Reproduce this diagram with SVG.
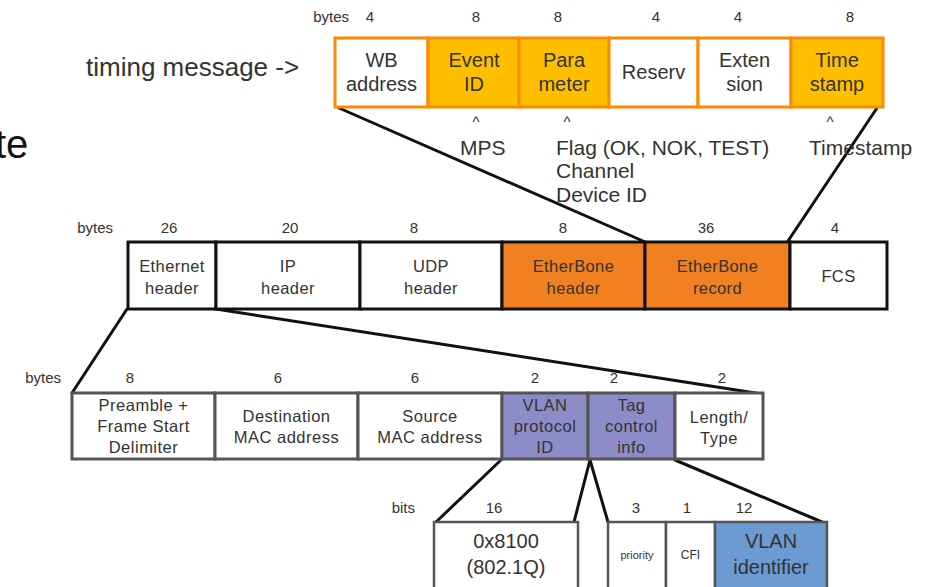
<svg xmlns="http://www.w3.org/2000/svg" width="928" height="587" viewBox="0 0 928 587">
<style>
text{font-family:"Liberation Sans",Arial,sans-serif;fill:#333;text-anchor:middle}
.big{font-size:40px;text-anchor:start;fill:#111}
.title{font-size:26px;text-anchor:start}
.lbl{font-size:15px}
.lbll{font-size:15px;text-anchor:end}
.t1{font-size:20px}
.ann{font-size:21px;text-anchor:start}
.t2{font-size:16.5px;letter-spacing:0.4px}
.t3{font-size:16.5px;letter-spacing:0.5px}
.t4{font-size:20px}
.o1{fill:#FFBF00;stroke:#FF8A00;stroke-width:3}
.w1{fill:#fff;stroke:#FF8A00;stroke-width:3}
.w2{fill:#fff;stroke:#111;stroke-width:3}
.o2{fill:#F08020;stroke:#111;stroke-width:3}
.w3{fill:#fff;stroke:#555;stroke-width:3}
.p3{fill:#8C8CC8;stroke:#555;stroke-width:3}
.w4{fill:#fff;stroke:#555;stroke-width:2.5}
.b4{fill:#6B9BD2;stroke:#555;stroke-width:2.5}
.c{stroke:#111;stroke-width:3;fill:none;stroke-linecap:round}
</style>

<text class="big" x="-5" y="158">te</text>
<text class="title" x="86" y="76">timing message -&gt;</text>

<g id="connectors">
<line class="c" x1="339" y1="108" x2="643" y2="241"/>
<line class="c" x1="877" y1="108" x2="788" y2="241"/>
<line class="c" x1="127" y1="309" x2="72" y2="393"/>
<line class="c" x1="216" y1="309" x2="762" y2="394"/>
<line class="c" x1="501" y1="460" x2="436" y2="522"/>
<line class="c" x1="590" y1="460" x2="574" y2="522"/>
<line class="c" x1="590" y1="460" x2="608" y2="522"/>
<line class="c" x1="675" y1="460" x2="822" y2="522"/>
</g>

<g id="timing-row">
<text class="lbll" x="349" y="22">bytes</text>
<text class="lbl" x="370" y="22">4</text>
<text class="lbl" x="476" y="22">8</text>
<text class="lbl" x="558" y="22">8</text>
<text class="lbl" x="656" y="22">4</text>
<text class="lbl" x="738" y="22">4</text>
<text class="lbl" x="850" y="22">8</text>
</g>
<g id="wb-address"><rect class="w1" x="335" y="38" width="93" height="69"/><text class="t1" x="381.5" y="67">WB</text><text class="t1" x="381.5" y="91">address</text></g>
<g id="event-id"><rect class="o1" x="428" y="38" width="91" height="69"/><text class="t1" x="474" y="67">Event</text><text class="t1" x="474" y="91">ID</text></g>
<g id="parameter"><rect class="o1" x="519" y="38" width="90" height="69"/><text class="t1" x="564" y="67">Para</text><text class="t1" x="564" y="91">meter</text></g>
<g id="reserv"><rect class="w1" x="609" y="38" width="89" height="69"/><text class="t1" x="653.5" y="79">Reserv</text></g>
<g id="extension"><rect class="w1" x="698" y="38" width="93" height="69"/><text class="t1" x="744.5" y="67">Exten</text><text class="t1" x="744.5" y="91">sion</text></g>
<g id="timestamp"><rect class="o1" x="791" y="38" width="92" height="69"/><text class="t1" x="837" y="67">Time</text><text class="t1" x="837" y="91">stamp</text></g>

<g id="annotations">
<text class="lbl" x="476" y="127">^</text>
<text class="lbl" x="567" y="127">^</text>
<text class="lbl" x="830" y="127">^</text>
<text class="ann" x="460" y="155">MPS</text>
<text class="ann" x="556" y="155">Flag (OK, NOK, TEST)</text>
<text class="ann" x="556" y="178">Channel</text>
<text class="ann" x="556" y="202">Device ID</text>
<text class="ann" x="809" y="155">Timestamp</text>
</g>

<g id="frame-row">
<text class="lbll" x="113" y="233">bytes</text>
<text class="lbl" x="169" y="233">26</text>
<text class="lbl" x="290" y="233">20</text>
<text class="lbl" x="414" y="233">8</text>
<text class="lbl" x="563" y="233">8</text>
<text class="lbl" x="706" y="233">36</text>
<text class="lbl" x="835" y="233">4</text>
</g>
<g id="ethernet-header"><rect class="w2" x="128" y="242" width="88" height="67"/><text class="t2" x="172" y="272">Ethernet</text><text class="t2" x="172" y="294">header</text></g>
<g id="ip-header"><rect class="w2" x="216" y="242" width="144" height="67"/><text class="t2" x="288" y="272">IP</text><text class="t2" x="288" y="294">header</text></g>
<g id="udp-header"><rect class="w2" x="360" y="242" width="142" height="67"/><text class="t2" x="431" y="272">UDP</text><text class="t2" x="431" y="294">header</text></g>
<g id="etherbone-header"><rect class="o2" x="502" y="242" width="143" height="67"/><text class="t2" x="573.5" y="272">EtherBone</text><text class="t2" x="573.5" y="294">header</text></g>
<g id="etherbone-record"><rect class="o2" x="645" y="242" width="145" height="67"/><text class="t2" x="717.5" y="272">EtherBone</text><text class="t2" x="717.5" y="294">record</text></g>
<g id="fcs"><rect class="w2" x="790" y="242" width="97" height="67"/><text class="t2" x="838.5" y="282">FCS</text></g>

<g id="ethernet-row">
<text class="lbll" x="61" y="383">bytes</text>
<text class="lbl" x="130" y="383">8</text>
<text class="lbl" x="278" y="383">6</text>
<text class="lbl" x="415" y="383">6</text>
<text class="lbl" x="535" y="383">2</text>
<text class="lbl" x="614" y="383">2</text>
<text class="lbl" x="722" y="383">2</text>
</g>
<g id="preamble"><rect class="w3" x="72" y="393" width="143" height="66"/><text class="t3" x="143.5" y="411">Preamble +</text><text class="t3" x="143.5" y="432">Frame Start</text><text class="t3" x="143.5" y="453">Delimiter</text></g>
<g id="destination-mac"><rect class="w3" x="215" y="393" width="143" height="66"/><text class="t3" x="286.5" y="422">Destination</text><text class="t3" x="286.5" y="443">MAC address</text></g>
<g id="source-mac"><rect class="w3" x="358" y="393" width="144" height="66"/><text class="t3" x="430" y="422">Source</text><text class="t3" x="430" y="443">MAC address</text></g>
<g id="vlan-protocol-id"><rect class="p3" x="502" y="393" width="86" height="66"/><text class="t3" x="545" y="411">VLAN</text><text class="t3" x="545" y="432">protocol</text><text class="t3" x="545" y="453">ID</text></g>
<g id="tag-control-info"><rect class="p3" x="588" y="393" width="87" height="66"/><text class="t3" x="631.5" y="411">Tag</text><text class="t3" x="631.5" y="432">control</text><text class="t3" x="631.5" y="453">info</text></g>
<g id="length-type"><rect class="w3" x="675" y="393" width="88" height="66"/><text class="t3" x="719" y="423">Length/</text><text class="t3" x="719" y="444">Type</text></g>

<g id="bits-row">
<text class="lbll" x="415" y="513">bits</text>
<text class="lbl" x="494" y="513">16</text>
<text class="lbl" x="636" y="513">3</text>
<text class="lbl" x="687" y="513">1</text>
<text class="lbl" x="744" y="513">12</text>
</g>
<g id="tpid-value"><rect class="w4" x="434" y="522" width="144" height="80"/><text class="t4" x="506" y="548">0x8100</text><text class="t4" x="506" y="574">(802.1Q)</text></g>
<g id="priority"><rect class="w4" x="608" y="522" width="58" height="80"/><text x="637" y="559" style="font-size:11px">priority</text></g>
<g id="cfi"><rect class="w4" x="666" y="522" width="49" height="80"/><text x="690.5" y="559" style="font-size:12px">CFI</text></g>
<g id="vlan-identifier"><rect class="b4" x="715" y="522" width="112" height="80"/><text class="t4" x="771" y="548">VLAN</text><text class="t4" x="771" y="574">identifier</text></g>
</svg>
